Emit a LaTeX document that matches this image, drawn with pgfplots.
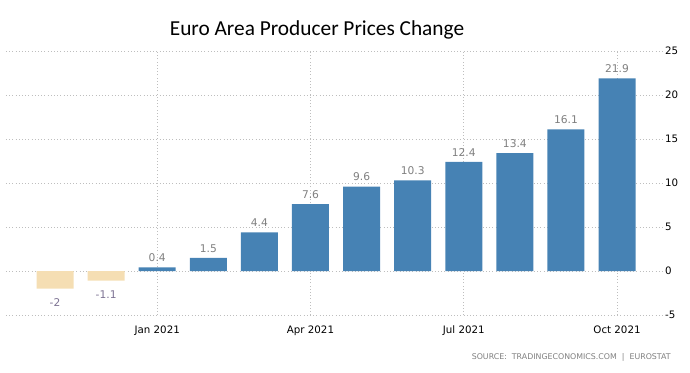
\documentclass[border=0pt]{standalone}
\usepackage{pgfplots}
\pgfplotsset{compat=1.18}
\usepackage{fontspec}
\setmainfont{DejaVu Sans}
\newfontfamily\titlefont{Carlito}
\definecolor{barblue}{HTML}{4682B4}
\definecolor{barneg}{HTML}{F5DEB3}
\definecolor{lblgray}{HTML}{7F7F7F}
\definecolor{neglbl}{HTML}{7D7393}
\definecolor{gridgray}{HTML}{BEBEBE}
\begin{document}
\begin{tikzpicture}[x=1pt,y=1pt]
\path[use as bounding box] (0,0) rectangle (517.5,279);
\begin{axis}[
  at={(4.5pt,42.75pt)}, anchor=south west,
  scale only axis, width=492.75pt, height=198pt,
  xmin=-0.96, xmax=11.9, ymin=-5, ymax=25,
  axis line style={draw=none},
  tick style={draw=none},
  ytick={-5,0,5,10,15,20,25},
  yticklabel pos=right,
  xtick={2,5,8,11},
  xticklabels={Jan 2021, Apr 2021, Jul 2021, Oct 2021},
  grid=major,
  major grid style={gridgray, dotted, line width=0.6pt},
  /pgf/number format/assume math mode=true,
  ticklabel style={font=\fontsize{7.7}{9}\selectfont, text=black},
  yticklabel style={xshift=-2pt},
  ybar, bar width=27.75pt, bar shift=0pt,
  nodes near coords,
  every node near coord/.append style={font=\fontsize{8}{9}\selectfont, text=lblgray, inner sep=4pt},
]
\addplot[fill=barneg, draw=none, every node near coord/.append style={yshift=-3.5pt, text=neglbl}] coordinates {(0,-2) (1,-1.1)};
\addplot[fill=barblue, draw=none] coordinates {(2,0.4) (3,1.5) (4,4.4) (5,7.6) (6,9.6) (7,10.3) (8,12.4) (9,13.4) (10,16.1) (11,21.9)};
\end{axis}
\node at (237.75,256.5) {\titlefont\fontsize{16}{18}\selectfont Euro Area Producer Prices Change};
\node[anchor=east, inner sep=0pt, text=lblgray] at (503.25,11.25) {\fontsize{5.9}{7}\selectfont SOURCE:\ \ TRADINGECONOMICS.COM\ \ |\ \ EUROSTAT};
\end{tikzpicture}
\end{document}
